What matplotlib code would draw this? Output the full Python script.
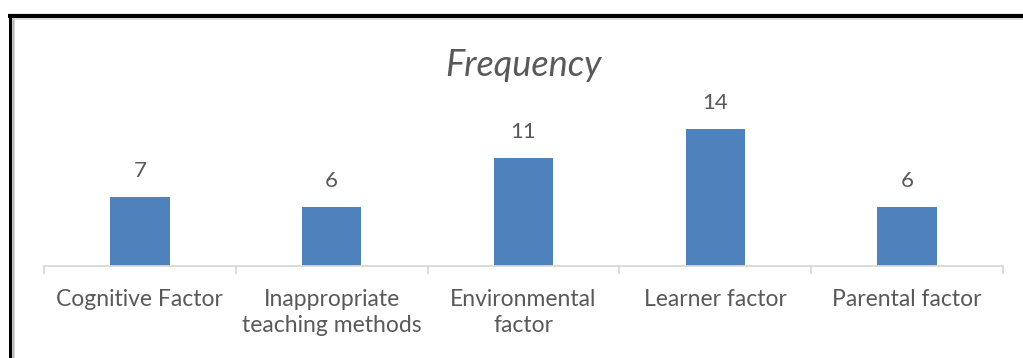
import matplotlib
matplotlib.use("Agg")
import matplotlib.pyplot as plt
from matplotlib.lines import Line2D

# dados do grafico
categorias = ["Cognitive Factor", "Inappropriate\nteaching methods", "Environmental\nfactor",
              "Learner factor", "Parental factor"]
frequencia = [7, 6, 11, 14, 6]

W, H = 1023, 358
azul = "#4F81BD"
cinza_txt = "#595959"
cinza_eixo = "#D9D9D9"

plt.rcParams["font.family"] = ["Lato", "DejaVu Sans"]

fig = plt.figure(figsize=(W / 100, H / 100), dpi=100)

# area do grafico em pixels (esq, base, dir, topo)
esq, dir_, base, topo = 44, 1003, 266, 109.2
ax = fig.add_axes([esq / W, (H - base) / H, (dir_ - esq) / W, (base - topo) / H])

x = range(len(categorias))
barras = ax.bar(x, frequencia, width=0.31, color=azul, zorder=2)
for b, v in zip(barras, frequencia):
    ax.annotate(str(v), (b.get_x() + b.get_width() / 2, v), xytext=(0, 16),
                textcoords="offset pixels", ha="center", va="bottom",
                fontsize=16, color=cinza_txt)

ax.set_xlim(-0.5, len(categorias) - 0.5)
ax.set_ylim(0, 16)
ax.set_yticks([])
for lado in ["top", "right", "left"]:
    ax.spines[lado].set_visible(False)
ax.spines["bottom"].set_color(cinza_eixo)
ax.spines["bottom"].set_linewidth(1.3)

ax.set_xticks(list(x))
ax.set_xticklabels(categorias, fontsize=16.5, color=cinza_txt, linespacing=1.3)
ax.tick_params(axis="x", which="major", length=0, pad=16.5)
ax.set_xticks([i - 0.5 for i in range(len(categorias) + 1)], minor=True)
ax.tick_params(axis="x", which="minor", length=5.5, width=1.3, color=cinza_eixo)

fig.text(0.5 * (esq + dir_) / W, (H - 65) / H, "Frequency", ha="center", va="center",
         fontsize=26, style="italic", color=cinza_txt)

# moldura preta dupla no canto superior esquerdo
def linha(x0, y0, x1, y1, cor, lw):
    fig.add_artist(Line2D([x0 / W, x1 / W], [(H - y0) / H, (H - y1) / H],
                          transform=fig.transFigure, color=cor, linewidth=lw,
                          solid_capstyle="butt"))

linha(8, 16, W, 16, "black", 3.0)
linha(9.5, 14, 9.5, H, "black", 2.2)
linha(12.5, 18, 12.5, H, "black", 1.0)
linha(13, 19, W, 19, cinza_eixo, 1.2)
linha(14, 19, 14, H, cinza_eixo, 1.2)

fig.savefig("out.png", dpi=100, facecolor="white")
